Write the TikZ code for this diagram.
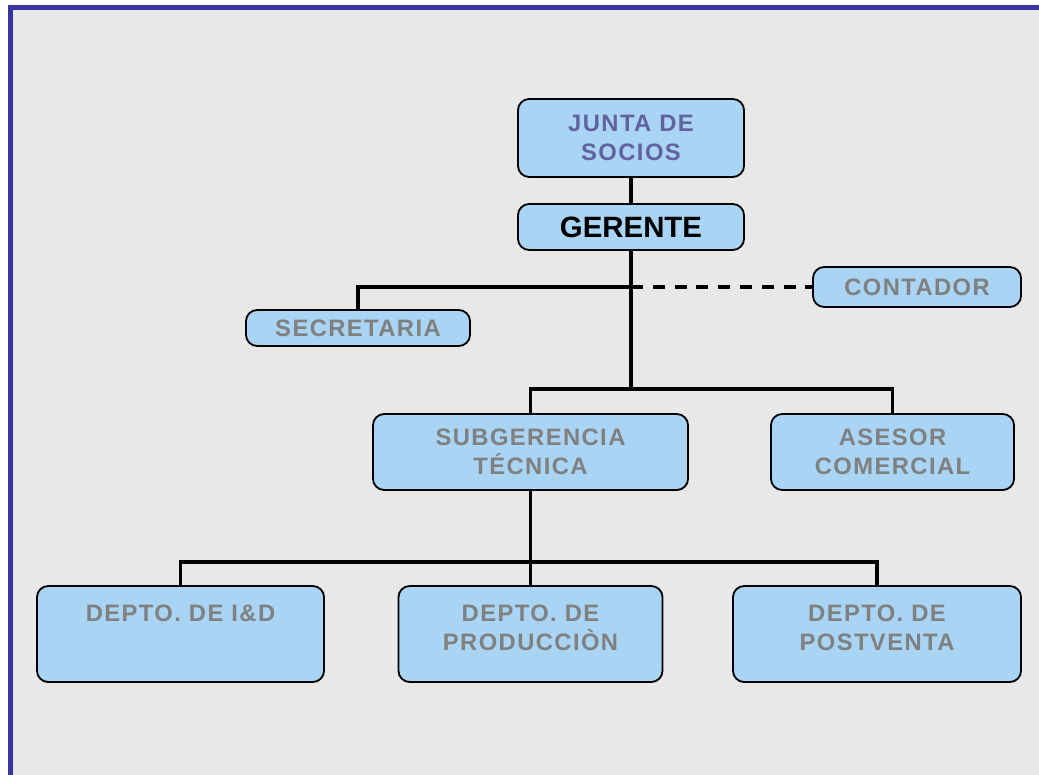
\documentclass[tikz,border=0pt]{standalone}
\usepackage{fontspec}
\setmainfont{Liberation Sans}
\newfontfamily\orgfont{Liberation Sans}[LetterSpace=6]
\usepackage{xcolor}
\usepackage{tikz}
\usetikzlibrary{positioning, calc}
\definecolor{framebg}{RGB}{232,232,232}
\definecolor{frameblue}{RGB}{54,54,158}
\definecolor{boxfill}{RGB}{169,212,243}
\definecolor{boxtext}{RGB}{128,128,128}
\definecolor{juntatext}{RGB}{98,98,160}
\tikzset{
  orgbox/.style={
    draw=black, fill=boxfill, rounded corners=8pt, line width=1.3pt,
    align=center, inner sep=2pt,
    font=\orgfont\bfseries\fontsize{16.9}{20.5}\selectfont, text=boxtext
  },
  deptbox/.style={
    orgbox, minimum height=2.4cm, text depth=9pt
  },
  orgline/.style={
    line width=2.8pt, draw=black
  },
  orgdash/.style={
    line width=2.6pt, draw=black, dash pattern=on 8.5pt off 7pt
  },
}

\begin{document}
\begin{tikzpicture}[x=0.025cm, y=-0.025cm]
  \useasboundingbox (0,0) rectangle (1039,775);

  % ── Frame ─────────────────────────────────────────────────────
  \fill[white] (0,0) rectangle (1039,775);
  \fill[framebg] (8,5) rectangle (1039,775);
  \fill[frameblue] (8,5) rectangle (13,775);
  \fill[frameblue] (8,5) rectangle (1039,10);

  % ── Top level ─────────────────────────────────────────────────
  \node[orgbox, minimum width=5.65cm, minimum height=1.95cm,
        text=juntatext] (junta) at (631,138) {JUNTA DE\\SOCIOS};
  \node[orgbox, minimum width=5.65cm, minimum height=1.15cm, text=black,
        font=\bfseries\fontsize{20.9}{24}\selectfont]
    (gerente) at (631,227) {GERENTE};

  % staff
  \node[orgbox, minimum width=5.6cm, minimum height=0.9cm]
    (secretaria) at (358,328) {SECRETARIA};
  \node[orgbox, minimum width=5.2cm, minimum height=1.0cm]
    (contador) at (917,287) {CONTADOR};

  % ── Second level ──────────────────────────────────────────────
  \node[orgbox, minimum width=7.875cm, minimum height=1.9cm]
    (subgerencia) at (530.5,452) {SUBGERENCIA\\TÉCNICA};
  \node[orgbox, minimum width=6.075cm, minimum height=1.9cm]
    (asesor) at (892.5,452) {ASESOR\\COMERCIAL};

  % ── Departments ───────────────────────────────────────────────
  \node[deptbox, minimum width=7.175cm]
    (idd) at (180.5,634) {DEPTO. DE I\&D\\\mbox{}};
  \node[deptbox, minimum width=6.6cm]
    (produccion) at (530.5,634) {DEPTO. DE\\PRODUCCIÒN};
  \node[deptbox, minimum width=7.2cm]
    (postventa) at (877,634) {DEPTO. DE\\POSTVENTA};

  % junction points
  \coordinate (staffbus) at (631,287);
  \coordinate (midbus) at (631,389);
  \coordinate (deptbus) at (530.5,562);

  % ── Connectors ────────────────────────────────────────────────
  \draw[orgline, line width=2.2pt] (junta) -- (gerente);
  \draw[orgline] (gerente.south) -- (midbus);
  \draw[orgline] (secretaria.north) |- (staffbus);
  \draw[orgdash] (staffbus) -- (contador.west);
  \draw[orgline] (subgerencia.north) |- (midbus) -| (asesor.north);
  \draw[orgline] (subgerencia.south) -- (deptbus);
  \draw[orgline] (idd.north) |- (deptbus) -| (postventa.north);
  \draw[orgline] (deptbus) -- (produccion.north);
\end{tikzpicture}
\end{document}
